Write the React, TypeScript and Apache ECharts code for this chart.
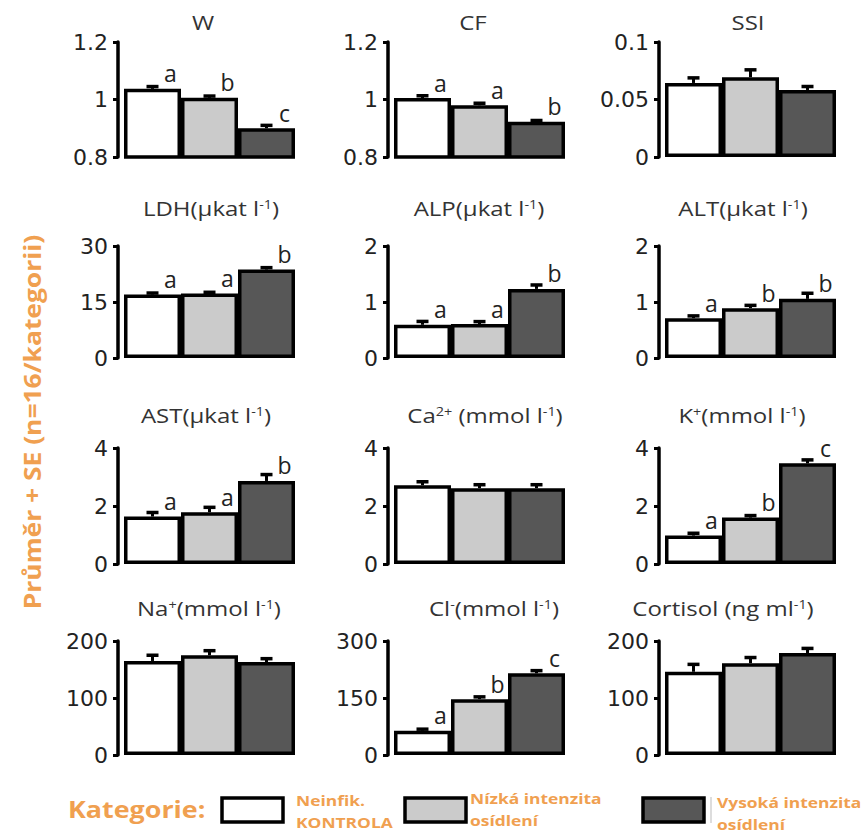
import React, { useEffect, useRef } from "react";
import * as echarts from "echarts";

// ---------- data ----------
const categories = ["Neinfik. KONTROLA", "Nízká intenzita osídlení", "Vysoká intenzita osídlení"];

const panelTitles = [
  "W",
  "CF",
  "SSI",
  "LDH(µkat l{s|-1})",
  "ALP(µkat l{s|-1})",
  "ALT(µkat l{s|-1})",
  "AST(µkat l{s|-1})",
  "Ca{s|2+} (mmol l{s|-1})",
  "K{s|+}(mmol l{s|-1})",
  "Na{s|+}(mmol l{s|-1})",
  "Cl{s|-}(mmol l{s|-1})",
  "Cortisol (ng ml{s|-1})",
];

const wMeans = [1.037, 1.006, 0.9];
const wSE = [0.008, 0.006, 0.01];
const wLetters = ["a", "b", "c"];

const cfMeans = [1.005, 0.98, 0.923];
const cfSE = [0.008, 0.007, 0.004];
const cfLetters = ["a", "a", "b"];

const ssiMeans = [0.0644, 0.0694, 0.0583];
const ssiSE = [0.0044, 0.0064, 0.003];
const ssiLetters = ["", "", ""];

const ldhMeans = [17.0, 17.3, 23.7];
const ldhSE = [0.4, 0.3, 0.5];
const ldhLetters = ["a", "a", "b"];

const alpMeans = [0.593, 0.605, 1.234];
const alpSE = [0.06, 0.045, 0.07];
const alpLetters = ["a", "a", "b"];

const altMeans = [0.712, 0.89, 1.056];
const altSE = [0.04, 0.05, 0.1];
const altLetters = ["a", "b", "b"];

const astMeans = [1.636, 1.784, 2.864];
const astSE = [0.14, 0.17, 0.22];
const astLetters = ["a", "a", "b"];

const caMeans = [2.716, 2.614, 2.614];
const caSE = [0.12, 0.12, 0.12];
const caLetters = ["", "", ""];

const kMeans = [0.98, 1.6, 3.47];
const kSE = [0.08, 0.07, 0.12];
const kLetters = ["a", "b", "c"];

const naMeans = [165, 175, 163];
const naSE = [10, 8, 6];
const naLetters = ["", "", ""];

const clMeans = [64, 147, 215];
const clSE = [4, 6, 7];
const clLetters = ["a", "b", "c"];

const cortMeans = [146, 161, 179];
const cortSE = [13, 10, 8];
const cortLetters = ["", "", ""];

// axis [min, max, interval]
const axisMin = [0.8, 0.8, 0, 0, 0, 0, 0, 0, 0, 0, 0, 0];
const axisMax = [1.2, 1.2, 0.1, 30, 2, 2, 4, 4, 4, 200, 300, 200];
const axisInterval = [0.2, 0.2, 0.05, 15, 1, 1, 2, 2, 2, 100, 150, 100];

const yAxisTitle = "Průměr + SE (n=16/kategorii)";
const legendTitle = "Kategorie:";
const legendLabels = ["Neinfik.\nKONTROLA", "Nízká intenzita\nosídlení", "Vysoká intenzita\nosídlení"];

const allMeans = [wMeans, cfMeans, ssiMeans, ldhMeans, alpMeans, altMeans, astMeans, caMeans, kMeans, naMeans, clMeans, cortMeans];
const allSE = [wSE, cfSE, ssiSE, ldhSE, alpSE, altSE, astSE, caSE, kSE, naSE, clSE, cortSE];
const allLetters = [wLetters, cfLetters, ssiLetters, ldhLetters, alpLetters, altLetters, astLetters, caLetters, kLetters, naLetters, clLetters, cortLetters];

// ---------- layout / style ----------
const fills = ["#ffffff", "#cbcbcb", "#575757"];
const colLefts = [124, 394, 665];
const gridWidth = 171;
const rowTops = [42, 246, 448, 641];
const rowHeights = [115, 112, 116, 114];
const titleX = [203, 473, 748, 211, 479, 743, 206, 485, 742, 209, 494, 723];
const titleY = [22, 208, 415, 608];
const ORANGE = "#f0a050";

export default function App() {
  const ref = useRef<HTMLDivElement>(null);

  useEffect(() => {
    if (!ref.current) return;
    const chart = echarts.init(ref.current, null, { renderer: "svg" });

    const grids: any[] = [];
    const xAxes: any[] = [];
    const yAxes: any[] = [];
    const series: any[] = [];
    const graphics: any[] = [];

    for (let i = 0; i < 12; i++) {
      const row = Math.floor(i / 3);
      const col = i % 3;
      grids.push({ left: colLefts[col], top: rowTops[row], width: gridWidth, height: rowHeights[row] });
      xAxes.push({
        type: "category",
        gridIndex: i,
        data: categories,
        boundaryGap: true,
        axisLine: { show: false },
        axisTick: { show: false },
        axisLabel: { show: false },
      });
      yAxes.push({
        type: "value",
        gridIndex: i,
        min: axisMin[i],
        max: axisMax[i],
        interval: axisInterval[i],
        offset: 6,
        splitLine: { show: false },
        axisLine: { show: true, lineStyle: { color: "#000", width: 3.5 } },
        axisTick: { show: true, length: 5, lineStyle: { color: "#000", width: 3 } },
        axisLabel: { fontSize: 22, color: "#222", fontFamily: "DejaVu Sans", margin: 10 },
      });
      const means = allMeans[i];
      const se = allSE[i];
      const letters = allLetters[i];
      series.push({
        type: "bar",
        xAxisIndex: i,
        yAxisIndex: i,
        barCategoryGap: "0%",
        itemStyle: { borderColor: "#000", borderWidth: 3.5 },
        label: {
          show: true,
          position: "top",
          distance: 4,
          offset: [18, 0],
          fontSize: 23,
          fontFamily: "Open Sans",
          color: "#222",
        },
        data: means.map((v, j) => ({
          value: v,
          itemStyle: { color: fills[j] },
          label: { show: !!letters[j], formatter: letters[j] },
        })),
        z: 2,
      });
      series.push({
        type: "custom",
        xAxisIndex: i,
        yAxisIndex: i,
        z: 5,
        encode: { x: 0, y: [1, 2] },
        data: means.map((m, j) => [j, m, m + se[j]]),
        renderItem: (params: any, api: any) => {
          const x = api.value(0);
          const base = api.coord([x, api.value(1)]);
          const top = api.coord([x, api.value(2)]);
          return {
            type: "group",
            children: [
              { type: "line", shape: { x1: top[0], y1: base[1], x2: top[0], y2: top[1] }, style: { stroke: "#000", lineWidth: 3 } },
              { type: "line", shape: { x1: top[0] - 6, y1: top[1], x2: top[0] + 6, y2: top[1] }, style: { stroke: "#000", lineWidth: 3.5 } },
            ],
          };
        },
      });
      graphics.push({
        type: "text",
        x: titleX[i],
        y: titleY[row],
        scaleX: 1.2,
        style: {
          text: panelTitles[i],
          fill: "#333",
          fontSize: 20,
          fontFamily: "Open Sans",
          textAlign: "center",
          textVerticalAlign: "middle",
          rich: { s: { fontSize: 12, fontFamily: "Open Sans", fill: "#333", verticalAlign: "top", lineHeight: 12 } },
        },
      });
    }

    // y-axis title
    graphics.push({
      type: "text",
      x: 31,
      y: 422,
      rotation: Math.PI / 2,
      scaleX: 1.1,
      style: {
        text: yAxisTitle,
        fill: ORANGE,
        fontSize: 24,
        fontWeight: "bold",
        fontFamily: "Open Sans",
        textAlign: "center",
        textVerticalAlign: "middle",
      },
    });

    // legend
    graphics.push({
      type: "text",
      x: 68,
      y: 809,
      scaleX: 1.12,
      style: { text: legendTitle, fill: ORANGE, fontSize: 24, fontWeight: "bold", fontFamily: "Open Sans", textVerticalAlign: "middle" },
    });
    const boxX = [222, 405, 643];
    const labX = [296, 470, 717];
    const labY = [811, 809, 813];
    for (let j = 0; j < 3; j++) {
      graphics.push({
        type: "rect",
        shape: { x: boxX[j], y: 798, width: 61, height: 24 },
        style: { fill: fills[j], stroke: "#000", lineWidth: 3.5 },
      });
      graphics.push({
        type: "text",
        x: labX[j],
        y: labY[j],
        scaleX: 1.16,
        style: {
          text: legendLabels[j],
          fill: ORANGE,
          fontSize: 15,
          fontWeight: "bold",
          fontFamily: "Open Sans",
          lineHeight: 22,
          textVerticalAlign: "middle",
        },
      });
    }
    graphics.push({
      type: "line",
      shape: { x1: 711, y1: 797, x2: 711, y2: 823 },
      style: { stroke: "#bbb", lineWidth: 1 },
    });

    chart.setOption({
      animation: false,
      backgroundColor: "#fff",
      grid: grids,
      xAxis: xAxes,
      yAxis: yAxes,
      series,
      graphic: graphics,
    });
    return () => chart.dispose();
  }, []);

  return <div ref={ref} style={{ position: "fixed", left: 0, top: 0, width: 868, height: 837 }} />;
}
